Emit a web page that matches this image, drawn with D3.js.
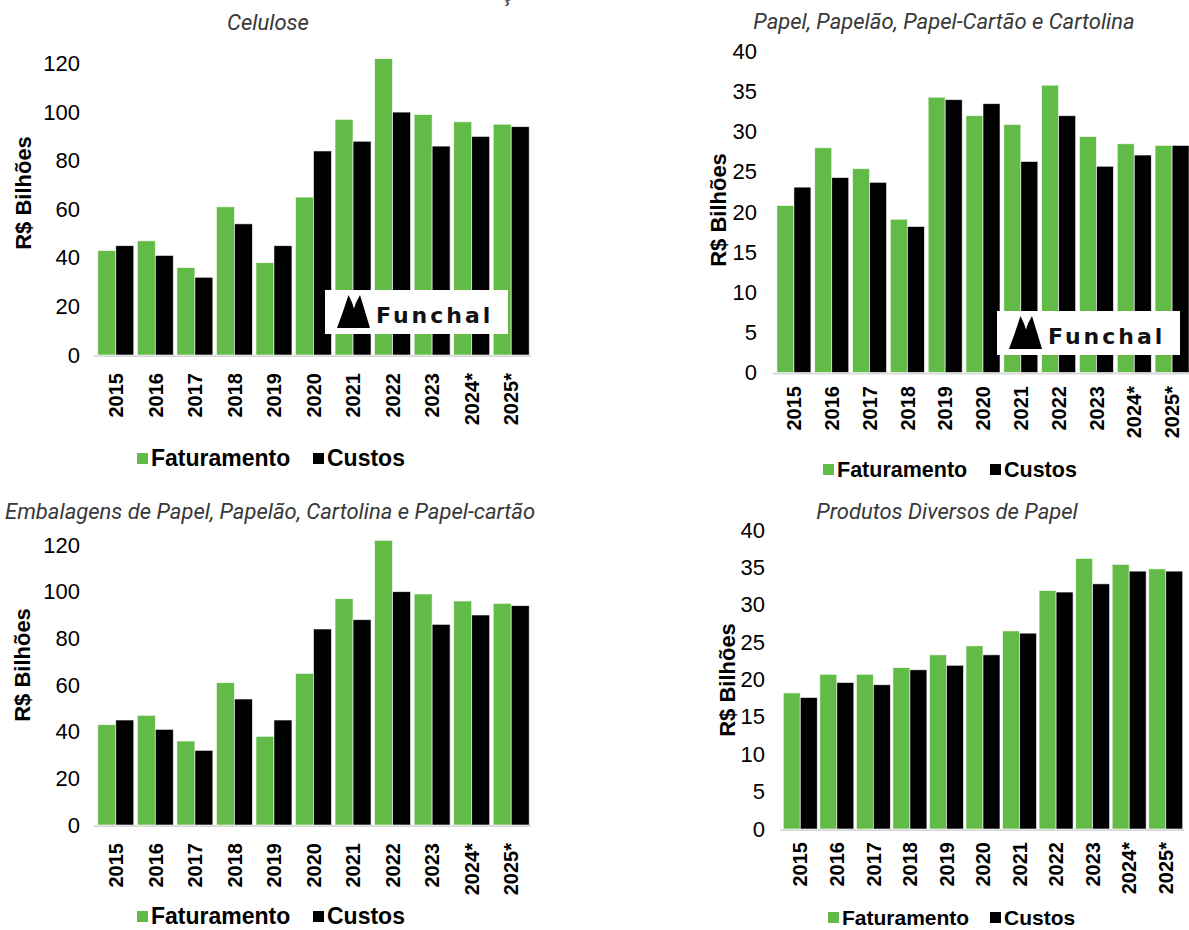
<!DOCTYPE html>
<html><head><meta charset="utf-8">
<script src="https://cdn.jsdelivr.net/npm/d3@7"></script>
<style>body{margin:0;background:#fff} svg{display:block}</style>
</head><body>
<svg id="chart" width="1189" height="930"></svg>
<script>
// ---------- DATA ----------
const years = ["2015","2016","2017","2018","2019","2020","2021","2022","2023","2024*","2025*"];
const seriesNames = ["Faturamento","Custos"];
const seriesColors = ["#62bb46","#000000"];

const celuloseFat    = [43,47,36,61,38,65,97,122,99,96,95];
const celuloseCustos = [45,41,32,54,45,84,88,100,86,90,94];

const papelFat    = [20.8,28.0,25.4,19.1,34.3,32.0,30.9,35.8,29.4,28.5,28.3];
const papelCustos = [23.1,24.3,23.7,18.2,34.0,33.5,26.3,32.0,25.7,27.1,28.3];

const embalagensFat    = [43,47,36,61,38,65,97,122,99,96,95];
const embalagensCustos = [45,41,32,54,45,84,88,100,86,90,94];

const diversosFat    = [18.2,20.7,20.7,21.6,23.3,24.5,26.5,31.9,36.2,35.4,34.8];
const diversosCustos = [17.6,19.6,19.3,21.3,21.9,23.3,26.2,31.7,32.8,34.5,34.5];

const ticks120 = [0,20,40,60,80,100,120];
const ticks40  = [0,5,10,15,20,25,30,35,40];

const titles = [
  "Celulose",
  "Papel, Papelão, Papel-Cartão e Cartolina",
  "Embalagens de Papel, Papelão, Cartolina e Papel-cartão",
  "Produtos Diversos de Papel"
];
const yAxisTitle = "R$ Bilhões";
const logoText = "Funchal";

// ---------- LAYOUT ----------
const panels = [
  {title:titles[0], fat:celuloseFat, cus:celuloseCustos, ticks:ticks120, yMax:120,
   titleX:268, titleY:30, anchor:"middle",
   x0:96, x1:531, pad:0.09, y0:355, yTop:63.5, tickX:80, ytX:23, ytY:193,
   xlabY:373, legY:458, legX:[137,313], legFont:23, logo:{x:325,y:290}},
  {title:titles[1], fat:papelFat, cus:papelCustos, ticks:ticks40, yMax:40,
   titleX:944, titleY:29, anchor:"middle",
   x0:775, x1:1191, pad:0.1, y0:372.5, yTop:51.5, tickX:757, ytX:718, ytY:210,
   xlabY:386, legY:469, legX:[823,990], legFont:21.5, logo:{x:997,y:311}},
  {title:titles[2], fat:embalagensFat, cus:embalagensCustos, ticks:ticks120, yMax:120,
   titleX:5, titleY:519, anchor:"start",
   x0:96, x1:531, pad:0.09, y0:825, yTop:545, tickX:80, ytX:22, ytY:665,
   xlabY:843, legY:916, legX:[137,313], legFont:23, logo:null},
  {title:titles[3], fat:diversosFat, cus:diversosCustos, ticks:ticks40, yMax:40,
   titleX:947, titleY:519, anchor:"middle",
   x0:782, x1:1184, pad:0.07, y0:829, yTop:530, tickX:765, ytX:727, ytY:680,
   xlabY:842, legY:917, legX:[828,990], legFont:21, logo:null}
];

const svg = d3.select("#chart");
const sansFont = "'Liberation Sans', Arial, Helvetica, sans-serif";

// cut-off fragment at top of the page (part of a title above the picture)
svg.append("text").attr("x",508).attr("y",0.5).attr("text-anchor","middle")
  .attr("font-family","Roboto, sans-serif").attr("font-style","italic")
  .attr("font-size",22).attr("fill","#404040").text("ç");

panels.forEach(p => {
  const g = svg.append("g");
  const x = d3.scaleBand().domain(years).range([p.x0, p.x1])
              .paddingInner(p.pad).paddingOuter(p.pad/2);
  const xs = d3.scaleBand().domain(seriesNames).range([0, x.bandwidth()]);
  const y = d3.scaleLinear().domain([0, p.yMax]).range([p.y0, p.yTop]);

  // title
  g.append("text").attr("x",p.titleX).attr("y",p.titleY).attr("text-anchor",p.anchor)
    .attr("font-family","Roboto, sans-serif").attr("font-style","italic")
    .attr("font-size",22).attr("fill","#383838").text(p.title);

  // baseline
  g.append("line").attr("x1",p.x0-2).attr("x2",p.x1).attr("y1",p.y0+1).attr("y2",p.y0+1)
    .attr("stroke","#d9d9d9").attr("stroke-width",2);

  // bars
  const rows = years.map((yr,i)=>({yr, vals:[p.fat[i], p.cus[i]]}));
  const grp = g.selectAll("g.yr").data(rows).join("g")
    .attr("transform", d=>`translate(${x(d.yr)},0)`);
  grp.selectAll("rect").data(d=>d.vals.map((v,k)=>({k,v}))).join("rect")
    .attr("x", d=>xs(seriesNames[d.k]))
    .attr("width", xs.bandwidth())
    .attr("y", d=>y(d.v))
    .attr("height", d=>y(0)-y(d.v))
    .attr("fill", d=>seriesColors[d.k])
    .attr("stroke","rgba(255,255,255,0.75)").attr("stroke-width",0.8);

  // y axis
  const ya = g.append("g").attr("transform",`translate(${p.tickX},0)`)
    .call(d3.axisLeft(y).tickValues(p.ticks).tickSize(0).tickPadding(0));
  ya.select(".domain").remove();
  ya.selectAll("text").attr("font-family",sansFont).attr("font-size",22).attr("fill","#000");

  // y axis title
  g.append("text").attr("transform",`translate(${p.ytX},${p.ytY}) rotate(-90)`)
    .attr("text-anchor","middle").attr("dy","0.35em")
    .attr("font-family",sansFont).attr("font-weight","bold").attr("font-size",22)
    .attr("fill","#000").text(yAxisTitle);

  // x labels
  g.selectAll("text.xl").data(years).join("text").attr("class","xl")
    .attr("transform", d=>`translate(${x(d)+x.bandwidth()/2},${p.xlabY}) rotate(-90)`)
    .attr("text-anchor","end").attr("dy","0.36em")
    .attr("font-family",sansFont).attr("font-weight","bold").attr("font-size",20)
    .attr("fill","#000").text(d=>d);

  // legend
  seriesNames.forEach((name,k)=>{
    g.append("rect").attr("x",p.legX[k]).attr("y",p.legY-5).attr("width",11).attr("height",11)
      .attr("fill",seriesColors[k]);
    g.append("text").attr("x",p.legX[k]+14).attr("y",p.legY).attr("dy","0.36em")
      .attr("font-family",sansFont).attr("font-weight","bold").attr("font-size",p.legFont)
      .attr("fill","#000").text(name);
  });

  // logo
  if (p.logo) {
    const lg = g.append("g").attr("transform",`translate(${p.logo.x},${p.logo.y})`);
    lg.append("rect").attr("width",183).attr("height",44).attr("fill","#fff");
    lg.append("path").attr("d","M12,38 L17.5,23 L23.5,5 L27,12.5 L29,18.5 L31,12.5 L35,5 L40.5,23 L45,38 Z").attr("fill","#000");
    lg.append("text").attr("x",51).attr("y",32.5)
      .attr("font-family","'DejaVu Sans', sans-serif").attr("font-weight","bold")
      .attr("font-size",22).attr("letter-spacing",3).attr("fill","#111").text(logoText);
  }
});
</script>
</body></html>
